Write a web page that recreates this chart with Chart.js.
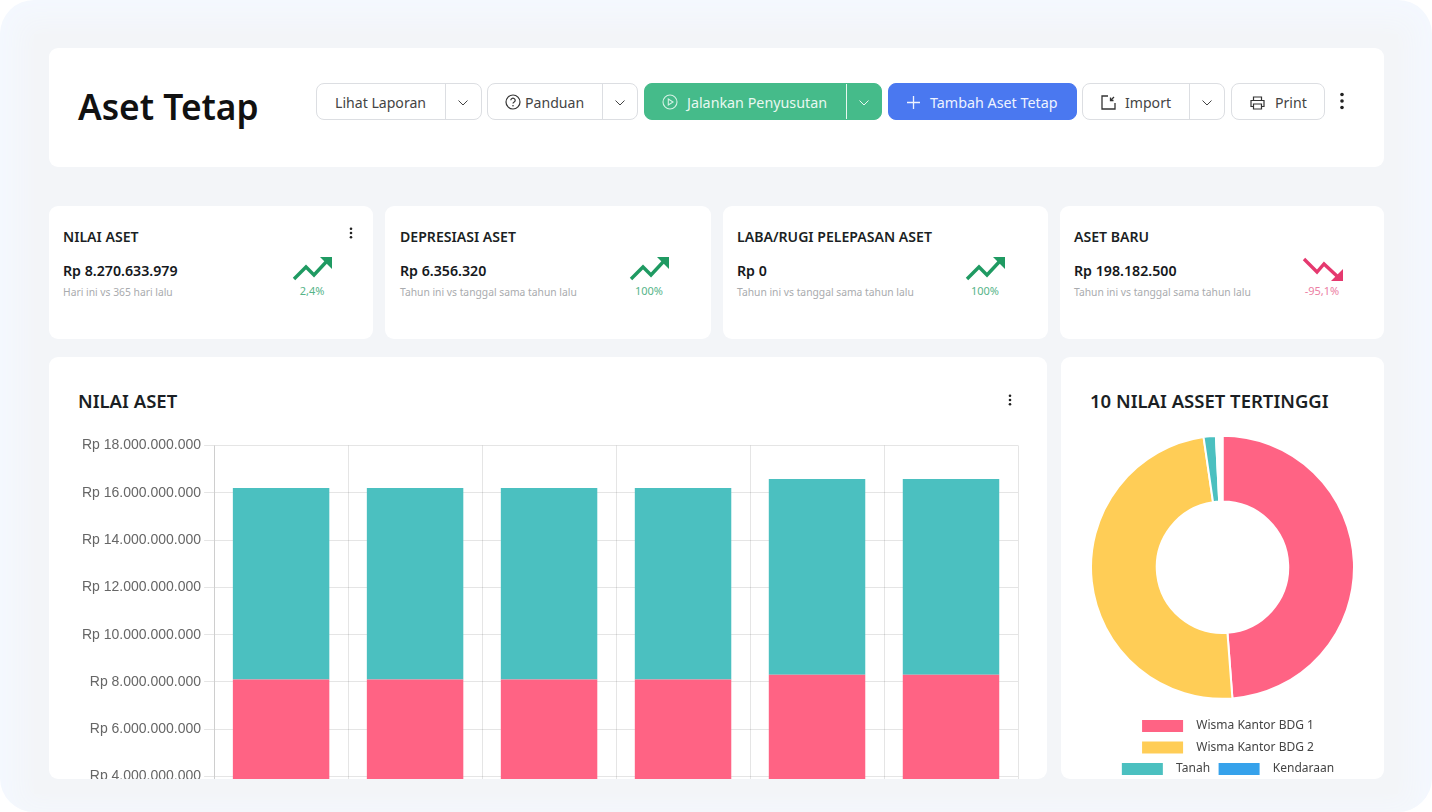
<!DOCTYPE html>
<html lang="id"><head><meta charset="utf-8"><title>Aset Tetap</title>
<script src="https://cdn.jsdelivr.net/npm/chart.js@4"></script>
<style>
*{box-sizing:border-box}
html,body{margin:0;padding:0;width:1432px;height:812px;overflow:hidden;background:#fff;font-family:"Noto Sans",sans-serif;color:#1b1f24}
#frame{position:absolute;left:0;top:0;width:1432px;height:812px;border-radius:34px;background:#f4f8fe;overflow:hidden}
#inner{position:absolute;left:34px;top:34px;width:1364px;height:760px;background:#f3f5f8;box-shadow:0 0 24px 14px #f3f5f8}
.card{position:absolute;background:#fff;border-radius:9px;overflow:hidden}
.t{position:absolute;white-space:nowrap;transform:translateY(-50%);line-height:1.2}
.btn{position:absolute;top:83px;height:37px;border:1px solid #dcdee2;border-radius:8px;background:#fff}
.btn i{position:absolute;top:0;bottom:0;width:1px;background:#dcdee2}
.green{background:#45bb8a;border-color:#45bb8a}.green i{background:#e8f7f0}
.blue{background:#4a78f0;border-color:#4a78f0}
svg{position:absolute;overflow:visible}
canvas{position:absolute}
</style></head><body>
<div id="frame"><div id="inner"></div>
<div class="card" style="left:49px;top:48px;width:1335px;height:119px"></div>
<div class="card" style="left:49px;top:206px;width:324px;height:133px"></div>
<div class="card" style="left:385px;top:206px;width:326px;height:133px"></div>
<div class="card" style="left:723px;top:206px;width:325px;height:133px"></div>
<div class="card" style="left:1060px;top:206px;width:324px;height:133px"></div>
<div class="card" style="left:49px;top:357px;width:998px;height:422px"><canvas id="bar" style="left:30px;top:77px;width:947px;height:468px"></canvas></div>
<div class="card" style="left:1061px;top:357px;width:323px;height:422px"><canvas id="pie" style="left:29px;top:66px;width:265px;height:363px"></canvas></div>
<div id="ui"></div>
</div>
<script>
const categories=["Jan","Feb","Mar","Apr","Mei","Jun"];
const wismaKantorBdg1=[8100000000,8100000000,8100000000,8100000000,8300000000,8300000000];
const wismaKantorBdg2=[8100000000,8100000000,8100000000,8100000000,8280000000,8280000000];
const yTicks=[4000000000,6000000000,8000000000,10000000000,12000000000,14000000000,16000000000,18000000000];
const donutLabels=["Wisma Kantor BDG 1","Wisma Kantor BDG 2","Tanah","Kendaraan","Lainnya"];
const donutValues=[48.8,48.9,1.5,0.2,0.6];
const donutColors=["#ff6384","#ffcd56","#4bc0c0","#36a2eb","#ffffff"];
const kpis=[
 {x:63,title:"NILAI ASET",value:"Rp 8.270.633.979",sub:"Hari ini vs 365 hari lalu",pct:"2,4%",ax:293,up:true},
 {x:400,title:"DEPRESIASI ASET",value:"Rp 6.356.320",sub:"Tahun ini vs tanggal sama tahun lalu",pct:"100%",ax:630,up:true},
 {x:737,title:"LABA/RUGI PELEPASAN ASET",value:"Rp 0",sub:"Tahun ini vs tanggal sama tahun lalu",pct:"100%",ax:966,up:true},
 {x:1074,title:"ASET BARU",value:"Rp 198.182.500",sub:"Tahun ini vs tanggal sama tahun lalu",pct:"-95,1%",ax:1303,up:false}
];
const ui=document.getElementById('ui');let h='';
const T=(s,x,y,size,weight,color,extra='')=>`<div class="t" style="left:${x}px;top:${y}px;font-size:${size}px;font-weight:${weight};color:${color};${extra}">${s}</div>`;
const chev=(x,c)=>`<svg style="left:${x-5}px;top:100px" width="10" height="6" viewBox="0 0 10 6"><path d="M0.5 0.5L5 5L9.5 0.5" fill="none" stroke="${c}" stroke-width="1"/></svg>`;
const kebab=(x,y,r=1.5,g=5)=>`<svg style="left:${x-3}px;top:${y-8}px" width="6" height="16" viewBox="0 0 6 16"><circle cx="3" cy="${8-g}" r="${r}" fill="#222"/><circle cx="3" cy="8" r="${r}" fill="#222"/><circle cx="3" cy="${8+g}" r="${r}" fill="#222"/></svg>`;
const btn=(l,w,split,cls='')=>`<div class="btn ${cls}" style="left:${l}px;width:${w}px">${split?`<i style="left:${split-l-1}px"></i>`:''}</div>`;
h+=T("Aset Tetap",78,105.5,35.3,600,"#111");
h+=btn(316,166,445)+T("Lihat Laporan",335,103,14.1,400,"#444")+chev(463,"#444");
h+=btn(487,151,602)+T("Panduan",525,103,14.1,400,"#444")+chev(620,"#444");
h+=`<svg style="left:505px;top:94px" width="16" height="16" viewBox="0 0 16 16"><circle cx="8" cy="8" r="7" fill="none" stroke="#333" stroke-width="1.2"/><path d="M5.8 6.2a2.2 2 0 1 1 3.4 1.7c-.8.5-1.2.9-1.2 1.7" fill="none" stroke="#333" stroke-width="1.2"/><circle cx="8" cy="11.8" r=".8" fill="#333"/></svg>`;
h+=btn(644,238,846,'green')+T("Jalankan Penyusutan",687,103,14.3,400,"#e9f8f1")+chev(864,"#e9f8f1");
h+=`<svg style="left:662px;top:94px" width="16" height="16" viewBox="0 0 16 16"><circle cx="8" cy="8" r="7" fill="none" stroke="#d5f2e5" stroke-width="1.1"/><path d="M6.3 5v6L11 8z" fill="none" stroke="#d5f2e5" stroke-width="1.1"/></svg>`;
h+=btn(888,189,0,'blue')+T("Tambah Aset Tetap",930,103,14.3,400,"#eef3ff");
h+=`<svg style="left:907px;top:96px" width="13" height="13" viewBox="0 0 13 13"><path d="M6.5 0v13M0 6.5h13" stroke="#eef3ff" stroke-width="1.3"/></svg>`;
h+=btn(1082,143,1189)+T("Import",1125,103,14.1,400,"#444")+chev(1207,"#444");
h+=`<svg style="left:1101px;top:95px" width="15" height="15" viewBox="0 0 15 15"><path d="M7 1H1v13h13V8M9.5 5.5L13 2M9.5 2.5v3h3" fill="none" stroke="#333" stroke-width="1.3"/></svg>`;
h+=btn(1231,94,0)+T("Print",1275,103,14.1,400,"#444");
h+=`<svg style="left:1250px;top:96px" width="15" height="14" viewBox="0 0 15 14"><path d="M3.5 4V1h8v3M3.5 10.5H1V4.5h13v6h-2.5M3.5 8h8v5h-8z" fill="none" stroke="#333" stroke-width="1.2"/></svg>`;
h+=kebab(1342,101,1.8,6.5);
for(const k of kpis){
 const c=k.up?"#1f9a62":"#e5396f", pc=k.up?"#56b489":"#ec7ea3";
 h+=T(k.title,k.x,236.5,14.1,600,"#1b1f24")+T(k.value,k.x,271,14.2,600,"#15181c")+T(k.sub,k.x,292,10.3,400,"#a9abae");
 h+=k.up?`<svg style="left:${k.ax}px;top:257px" width="39" height="23" viewBox="0 0 39 23"><path d="M1 22L13 10L21 18L34 4" fill="none" stroke="${c}" stroke-width="3.4"/><path d="M27 0H39V12z" fill="${c}"/></svg>`
 :`<svg style="left:${k.ax}px;top:257px" width="40" height="24" viewBox="0 0 40 24"><path d="M1 2L14 15L21 7L35 20" fill="none" stroke="${c}" stroke-width="3.4"/><path d="M28 24H40V12z" fill="${c}"/></svg>`;
 h+=`<div class="t" style="left:${k.ax+19}px;top:290.5px;font-size:11px;color:${pc};transform:translate(-50%,-50%)">${k.pct}</div>`;
}
h+=kebab(351,233,1.3,4.3)+kebab(1010,400,1.3,4.3);
h+=T("NILAI ASET",78,401,18.5,600,"#1b1f24")+T("10 NILAI ASSET TERTINGGI",1090,401,18.5,600,"#1b1f24");
ui.innerHTML=h;

Chart.defaults.animation=false;
new Chart(document.getElementById('bar'),{type:'bar',
 data:{labels:categories,datasets:[
  {label:"Wisma Kantor BDG 1",data:wismaKantorBdg1,backgroundColor:"#ff6384"},
  {label:"Wisma Kantor BDG 2",data:wismaKantorBdg2,backgroundColor:"#4bc0c0"}]},
 options:{responsive:false,plugins:{legend:{display:false},tooltip:{enabled:false}},
  layout:{padding:{top:3,right:8}},
  scales:{
   x:{stacked:true,border:{color:"rgba(0,0,0,0.1)"},grid:{color:"rgba(0,0,0,0.1)"},ticks:{font:{family:"Liberation Sans",size:14},color:"#666"}},
   y:{stacked:true,min:0,max:18000000000,afterBuildTicks(s){s.ticks=[0,2000000000,...yTicks].map(v=>({value:v}))},
    border:{color:"rgba(0,0,0,0.1)"},grid:{color:"rgba(0,0,0,0.1)",tickLength:10},
    ticks:{padding:3,font:{family:"Liberation Sans",size:14},color:"#666",callback:v=>"Rp "+String(v).replace(/\B(?=(\d{3})+$)/g,".")}}
  }}});
new Chart(document.getElementById('pie'),{type:'doughnut',
 data:{labels:donutLabels,datasets:[{data:donutValues,backgroundColor:donutColors,borderColor:"#fff",borderWidth:2}]},
 options:{responsive:false,cutout:"50%",plugins:{tooltip:{enabled:false},
  legend:{position:'bottom',labels:{boxWidth:43,boxHeight:14,padding:7.5,color:"#444",font:{family:"Noto Sans",size:12},
   filter:i=>i.text.trim()!=="Lainnya",
   generateLabels(c){return Chart.overrides.doughnut.plugins.legend.labels.generateLabels(c).map(i=>({...i,text:"  "+i.text}))}}}}},
 plugins:[{id:'legendShift',afterLayout(c){c.legend.left+=5;c.legend.right+=5}}]});
</script></body></html>
